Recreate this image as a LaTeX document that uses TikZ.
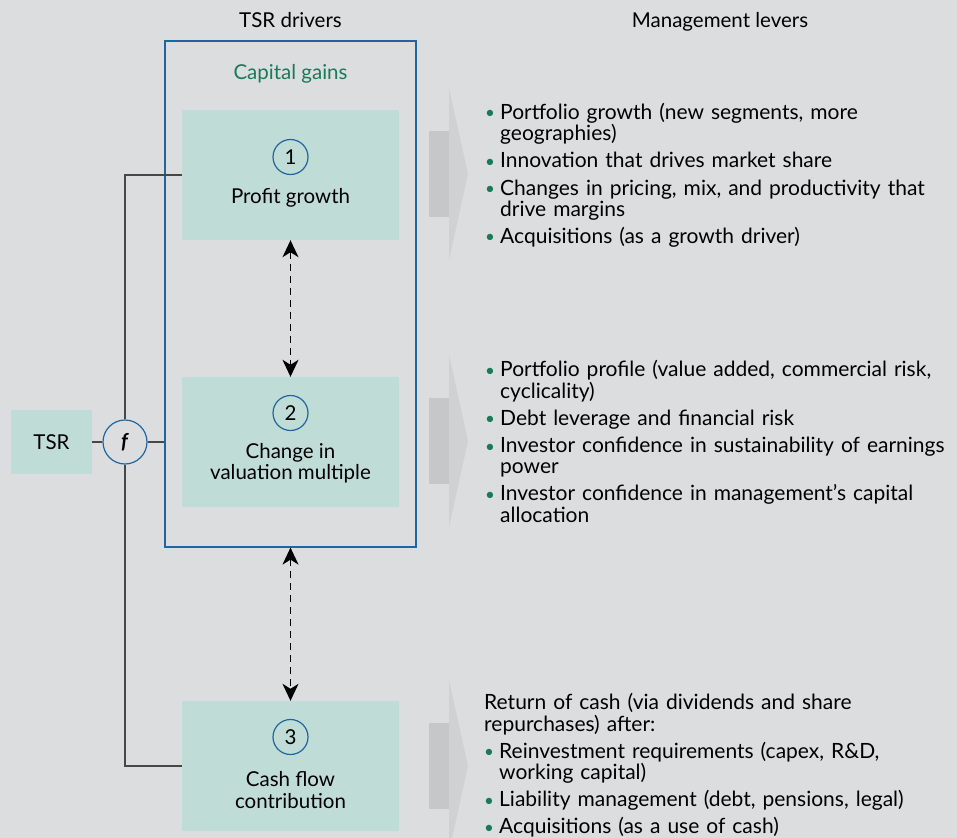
\documentclass[tikz,border=0pt]{standalone}
\usepackage{fontspec}
\setmainfont{Lato}
\usepackage{tikz}
\usetikzlibrary{arrows.meta}
\definecolor{bgrey}{HTML}{DCDDDF}
\definecolor{mint}{HTML}{C0DCD6}
\definecolor{bcgblue}{HTML}{1F66A0}
\definecolor{bcggreen}{HTML}{197A56}
\definecolor{linegrey}{HTML}{474747}
\definecolor{chevdark}{HTML}{C6C7C9}
\definecolor{chevlight}{HTML}{D0D1D3}

\newcommand{\lvr}[1]{\hangindent=15bp\hangafter=1\noindent
  \makebox[15bp][l]{\raisebox{0.5bp}{\textcolor{bcggreen}{\fontsize{17bp}{17bp}\selectfont\textbullet}}}#1\par\vspace{6bp}}

\begin{document}
\begin{tikzpicture}
  [x=1bp,y=-1bp,font=\fontsize{20.5bp}{21.2bp}\selectfont,
   drvbox/.style={fill=mint,minimum width=217bp,minimum height=130bp,inner sep=0},
   numcirc/.style={circle,draw=bcgblue,line width=1.2bp,minimum size=35bp,inner sep=0},
   conn/.style={draw=linegrey,line width=1.5bp},
   dasharrow/.style={line width=1.4bp,dash pattern=on 7bp off 5bp,
     {Stealth[length=17bp,width=16bp,inset=5bp]}-{Stealth[length=17bp,width=16bp,inset=5bp]}},
   levers/.style={anchor=north west,inner sep=0,text width=470bp,
     font=\fontsize{21bp}{21.2bp}\selectfont}]

  \fill[bgrey] (0,0) rectangle (957,838);
  \useasboundingbox (0,0) rectangle (957,838);

  % chevrons
  \foreach \c in {174,441,766} {
    \fill[chevdark] (429,\c-43) rectangle (449,\c+43);
    \fill[chevlight] (449,\c-86) -- (468,\c) -- (449,\c+86) -- cycle;
  }

  \node (hdrd) at (290.5,20) {TSR drivers};
  \node (hdrm) at (720,22) {Management levers};

  \node[draw=bcgblue,line width=1.2bp,minimum width=251bp,minimum height=506bp] (cg) at (290.5,294) {};
  \node[text=bcggreen] (cgl) at (290.5,74) {Capital gains};

  \node[drvbox] (b1) at (290.5,175) {};
  \node[numcirc] (c1) at (290.5,157) {1};
  \node (l1) at (290.5,198) {Profit growth};

  \node[drvbox] (b2) at (290.5,442) {};
  \node[numcirc] (c2) at (290.5,413) {2};
  \node[align=center] (l2) at (290.5,463) {Change in\\valuation multiple};

  \node[drvbox] (b3) at (290.5,766) {};
  \node[numcirc] (c3) at (290.5,737) {3};
  \node[align=center] (l3) at (290.5,790) {Cash flow\\contribution};

  \node[fill=mint,minimum width=81bp,minimum height=64bp] (tsr) at (51.5,442) {TSR};
  \node[circle,draw=bcgblue,line width=1.2bp,minimum size=44bp,inner sep=0] (f) at (125,442) {\textbf{\textit{f}}};

  \draw[conn] (tsr) -- (f);
  \draw[conn] (f.east) -- (f.east -| cg.west);
  \draw[conn] (f.north) |- (b1.west);
  \draw[conn] (f.south) |- (b3.west);

  \draw[dasharrow] (b1.south) -- (b2.north);
  \draw[dasharrow] (cg.south) -- (b3.north);

  \node[levers] (lv1) at (485,103) {\raggedright
    \lvr{Portfolio growth (new segments, more\newline geographies)}
    \lvr{Innovation that drives market share}
    \lvr{Changes in pricing, mix, and productivity that\newline drive margins}
    \lvr{Acquisitions (as a growth driver)}};

  \node[levers] (lv2) at (485,360.5) {\raggedright
    \lvr{Portfolio profile (value added, commercial risk,\newline cyclicality)}
    \lvr{Debt leverage and financial risk}
    \lvr{Investor confidence in sustainability of earnings\newline power}
    \lvr{Investor confidence in management’s capital\newline allocation}};

  \node[levers] (lv3) at (484,693.5) {\raggedright
    \noindent Return of cash (via dividends and share\newline repurchases) after:\par\vspace{6bp}
    \lvr{Reinvestment requirements (capex, R\&D,\newline working capital)}
    \lvr{Liability management (debt, pensions, legal)}
    \lvr{Acquisitions (as a use of cash)}};
\end{tikzpicture}
\end{document}
